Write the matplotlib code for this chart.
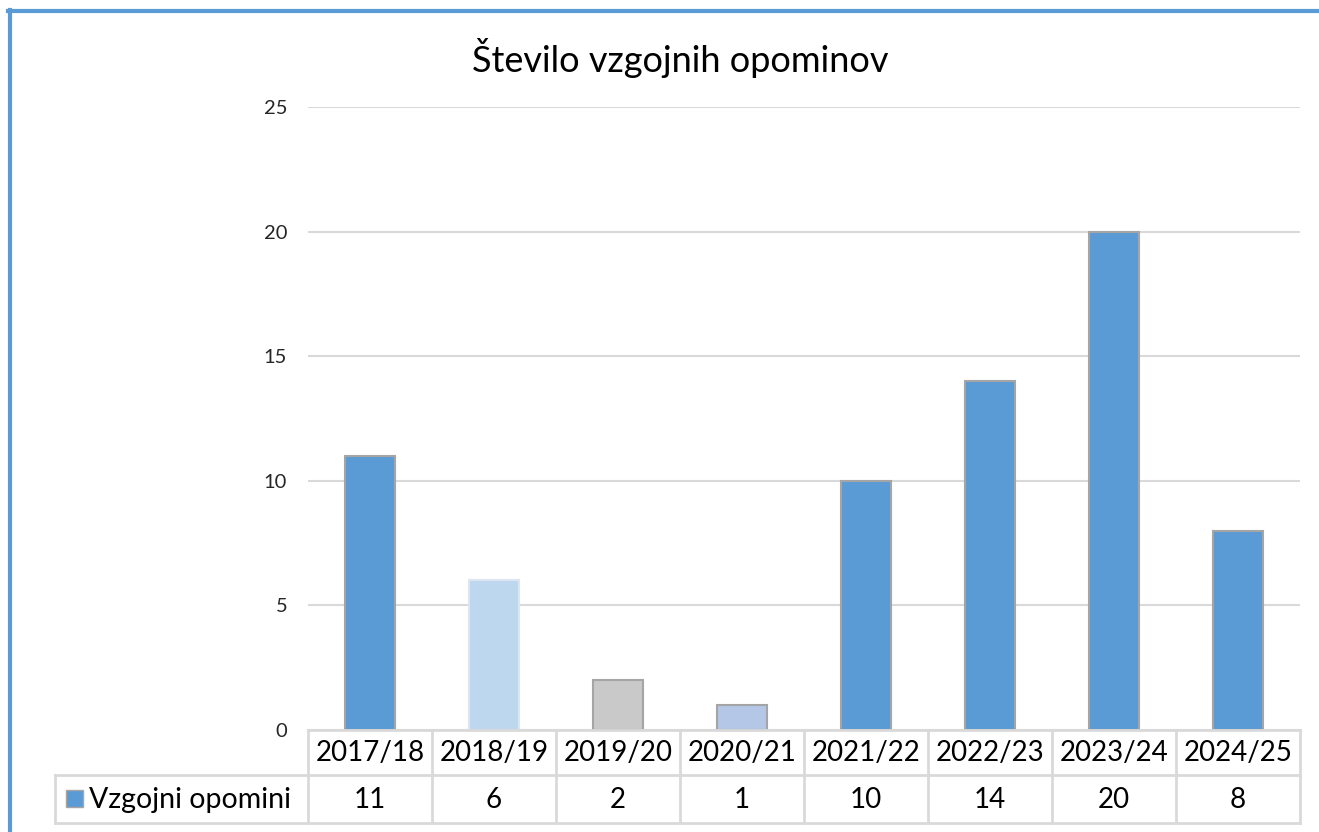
import matplotlib

matplotlib.use("Agg")
import matplotlib.pyplot as plt
from matplotlib.lines import Line2D
from matplotlib.patches import Rectangle
import numpy as np

plt.rcParams["font.family"] = ["Lato", "DejaVu Sans"]

years = ["2017/18", "2018/19", "2019/20", "2020/21", "2021/22", "2022/23", "2023/24", "2024/25"]
counts = [11, 6, 2, 1, 10, 14, 20, 8]
series_name = "Vzgojni opomini"
title = "Število vzgojnih opominov"
bar_colors = ["#5B9BD5", "#BDD7EE", "#C9C9C9", "#B4C7E7",
              "#5B9BD5", "#5B9BD5", "#5B9BD5", "#5B9BD5"]
edge_colors = ["#A5A5A5", "#DCE6F2", "#A5A5A5", "#A5A5A5",
               "#A5A5A5", "#A5A5A5", "#A5A5A5", "#A5A5A5"]

W, H = 1319, 832
fig = plt.figure(figsize=(W / 100, H / 100), dpi=100)


def px(x0, y0, x1, y1):
    # pixel box (top-left origin) -> figure fraction rect
    return [x0 / W, 1 - y1 / H, (x1 - x0) / W, (y1 - y0) / H]


grid_c = "#D9D9D9"

ax = fig.add_axes(px(308, 107, 1300, 730))
x = np.arange(len(years))
ax.bar(x, counts, width=0.4, color=bar_colors, edgecolor=edge_colors, linewidth=1.5, zorder=3)
ax.set_xlim(-0.5, len(years) - 0.5)
ax.set_ylim(0, 25)
ax.set_yticks([0, 5, 10, 15, 20, 25])
ax.yaxis.grid(True, color=grid_c, linewidth=1.5, zorder=0)
ax.set_xticks([])
for s in ax.spines.values():
    s.set_visible(False)
ax.tick_params(axis="y", length=0, pad=15, labelsize=14.5, labelcolor="#262626")

# data table below the plot
tab = fig.add_axes(px(308, 730, 1300, 823))
tab.set_xlim(-0.5, len(years) - 0.5)
tab.set_ylim(823, 730)
tab.axis("off")
kw = dict(color=grid_c, linewidth=2, clip_on=False)
for yy in (730, 775, 823):
    tab.plot([-0.5, len(years) - 0.5], [yy, yy], **kw)
for b in np.arange(len(years) + 1) - 0.5:
    tab.plot([b, b], [730, 823], **kw)
for i, (yr, c) in enumerate(zip(years, counts)):
    tab.text(i, 753, yr, ha="center", va="center", fontsize=20, color="black")
    tab.text(i, 800, str(c), ha="center", va="center", fontsize=20, color="black")

# legend cell
fig.add_artist(Line2D([55 / W, 308 / W], [1 - 775 / H, 1 - 775 / H], color=grid_c, linewidth=2))
fig.add_artist(Line2D([55 / W, 308 / W], [1 - 823 / H, 1 - 823 / H], color=grid_c, linewidth=2))
fig.add_artist(Line2D([55 / W, 55 / W], [1 - 775 / H, 1 - 823 / H], color=grid_c, linewidth=2))
fig.add_artist(Rectangle((66 / W, 1 - 807 / H), 17 / W, 17 / H, facecolor=bar_colors[0],
                         edgecolor="#A5A5A5", linewidth=1, transform=fig.transFigure))
fig.text(89 / W, 1 - 800 / H, series_name, ha="left", va="center", fontsize=20.5, color="black")

fig.text(680 / W, 1 - 58 / H, title, ha="center", va="center", fontsize=26, color="black")

# blue frame at top and left
fig.add_artist(Line2D([8 / W, 1.0], [1 - 10.5 / H, 1 - 10.5 / H], color="#5B9BD5", linewidth=3))
fig.add_artist(Line2D([10 / W, 10 / W], [1 - 10 / H, 0], color="#5B9BD5", linewidth=3))

fig.savefig("out.png", dpi=100)
